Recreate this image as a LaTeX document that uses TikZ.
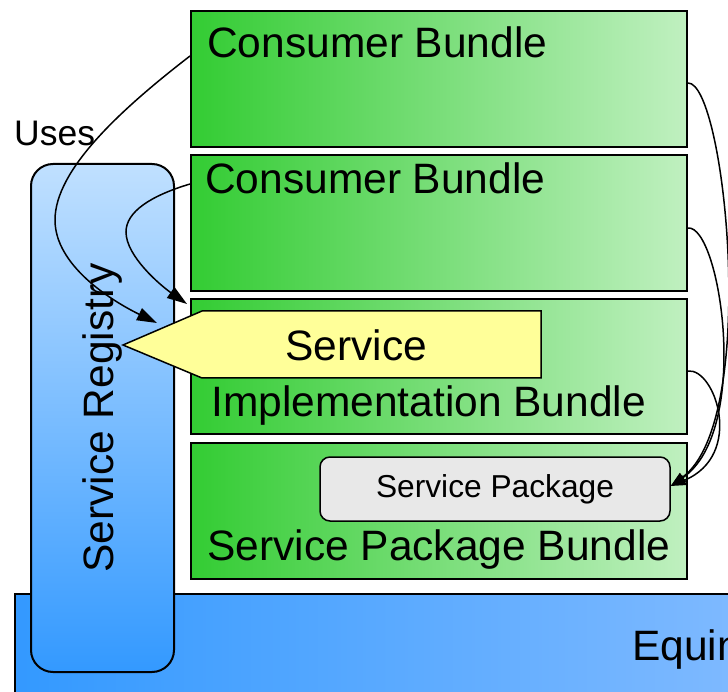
\documentclass[tikz,border=0pt]{standalone}
\usepackage{fontspec}
\setmainfont{Liberation Sans}
\usetikzlibrary{arrows.meta,calc}
\definecolor{gl}{RGB}{51,204,51}
\definecolor{gr}{RGB}{192,240,192}
\definecolor{rt}{RGB}{192,224,255}
\definecolor{rb}{RGB}{51,153,255}
\definecolor{el}{RGB}{51,153,255}
\definecolor{er}{RGB}{128,186,255}
\definecolor{svc}{RGB}{255,255,153}
\definecolor{pkgc}{RGB}{232,232,232}
\begin{document}
\begin{tikzpicture}[x=1pt,y=-1pt,
  bundle/.style={draw=black,line width=2pt,left color=gl,right color=gr,minimum width=496pt,minimum height=136pt,anchor=north west,inner sep=0pt},
  lbl/.style={font=\fontsize{42.5pt}{50pt}\selectfont,inner sep=0pt,anchor=base west},
  conn/.style={line width=1.5pt,-{Triangle[length=20pt,width=13pt]}},
  connr/.style={line width=1.5pt,-{Triangle[length=15pt,width=10pt]}}
]
\useasboundingbox (0,0) rectangle (728,692);
\clip (0,0) rectangle (728,692);
% Equinox bar
\node[draw=black,line width=2pt,left color=el,right color=er,minimum width=740pt,minimum height=110pt,anchor=north west,inner sep=0pt] (equinox) at (14,593) {};
\node[lbl] (eqtxt) at (632,660) {Equinox};
% Service registry
\node[draw=black,line width=2pt,rounded corners=22pt,top color=rt,bottom color=rb,minimum width=143pt,minimum height=508pt,anchor=north west,inner sep=0pt] (reg) at (30,163) {};
\node[lbl,anchor=center,rotate=90] (regtxt) at (103,418) {Service Registry};
% Bundles
\node[bundle] (cb1) at (190,10) {};
\node[bundle] (cb2) at (190,154) {};
\node[bundle,minimum height=135pt] (impl) at (190,298) {};
\node[bundle] (spb) at (190,442) {};
\node[lbl] (cb1txt) at (207,58) {Consumer Bundle};
\node[lbl] (cb2txt) at (205,194) {Consumer Bundle};
\node[lbl] (impltxt) at (211,416) {Implementation Bundle};
\node[lbl] (spbtxt) at (207,560) {Service Package Bundle};
% Service package
\node[draw=black,line width=1.5pt,rounded corners=10pt,fill=pkgc,minimum width=350pt,minimum height=64pt,inner sep=0pt,font=\fontsize{31.7pt}{38pt}\selectfont] (pkg) at (495,489) {Service Package};
% Service
\draw[line width=1.5pt,fill=svc] (123,345) coordinate (svctip) -- (202,311) -- (541,311) -- (541,378) -- (202,378) -- cycle;
\node[lbl] (svctxt) at (285,361) {Service};
% Uses
\node[lbl,font=\fontsize{35.5pt}{42pt}\selectfont] (uses) at (14,146) {Uses};
% connectors
\coordinate (a1end) at (157,323);
\draw[conn] ([yshift=23pt]cb1.west) .. controls (120,110) and (55,170) .. (55,220) .. controls (55,265) and (110,300) .. (a1end);
\draw[conn] ([yshift=39pt]cb2.west) .. controls (150,196) and (126,212) .. (126,232) .. controls (126,256) and (160,285) .. ([shift={(-3pt,-6pt)}]impl.north west);
\draw[connr] ([yshift=-4pt]cb1.east) .. controls (725,82) and (760,420) .. ([yshift=3pt]pkg.east);
\draw[connr] ([yshift=-5pt]cb2.east) .. controls (720,225) and (752,430) .. ([yshift=3pt]pkg.east);
\draw[connr] ([yshift=-4.5pt]impl.east) .. controls (715,368) and (745,455) .. ([yshift=3pt]pkg.east);
\end{tikzpicture}
\end{document}
